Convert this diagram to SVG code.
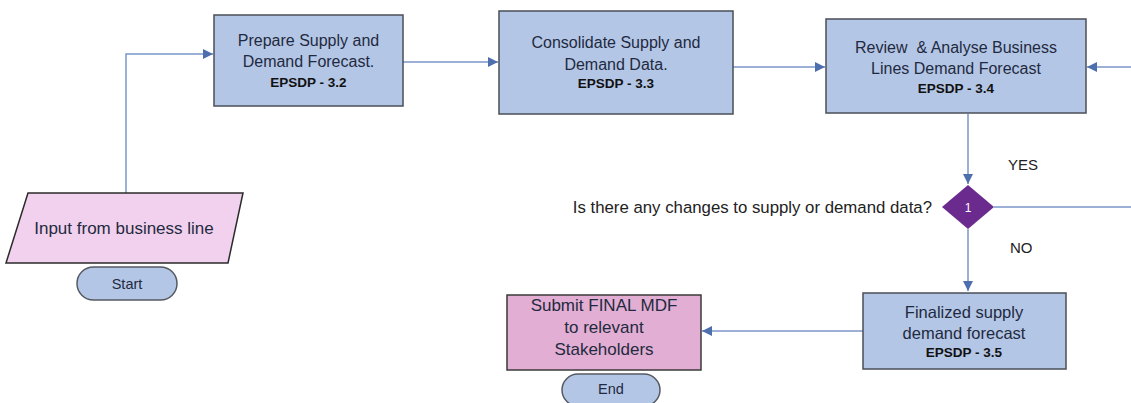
<svg xmlns="http://www.w3.org/2000/svg" width="1131" height="403" viewBox="0 0 1131 403">
<style>
.box{fill:#b4c6e6;stroke:#4a4f57;stroke-width:1.5}
.pink{fill:#f2d1ee;stroke:#2b2b2b;stroke-width:1.5}
.sub{fill:#e2aed3;stroke:#3a3a3a;stroke-width:1.5}
.pill{fill:#b4c6e6;stroke:#555a62;stroke-width:1.5}
.t{font-family:"Liberation Sans",Arial,sans-serif;font-size:16px;fill:#1f2a40;text-anchor:middle}
.b{font-family:"Liberation Sans",Arial,sans-serif;font-size:13.5px;font-weight:bold;fill:#111;text-anchor:middle}
.lbl{font-family:"Liberation Sans",Arial,sans-serif;font-size:15px;fill:#222}
.conn{fill:none;stroke:#7a96c6;stroke-width:1.5}
</style>
<defs>
<marker id="ah" viewBox="0 0 10 10" refX="10" refY="5" markerWidth="10" markerHeight="10" markerUnits="userSpaceOnUse" orient="auto">
<path d="M0,0 L10,5 L0,10 Z" fill="#4e6fae"/>
</marker>
</defs>
<rect width="1131" height="403" fill="#ffffff"/>
<g id="connectors">
<path class="conn" d="M126,193 V54 H213" marker-end="url(#ah)"/>
<path class="conn" d="M403,62 H498" marker-end="url(#ah)"/>
<path class="conn" d="M733,67 H825" marker-end="url(#ah)"/>
<path class="conn" d="M1131,67 H1087" marker-end="url(#ah)"/>
<path class="conn" d="M968,114 V184" marker-end="url(#ah)"/>
<path class="conn" d="M994,207 H1131"/>
<path class="conn" d="M968,229 V291" marker-end="url(#ah)"/>
<path class="conn" d="M863,331 H702" marker-end="url(#ah)"/>
</g>
<g id="input">
<polygon class="pink" points="28,193 243,193 228,263 6,263"/>
<text class="t" x="124" y="234" style="font-size:17px">Input from business line</text>
</g>
<g id="start">
<rect class="pill" x="77" y="267" width="100" height="33" rx="16.5"/>
<text class="t" x="127" y="289" style="font-size:14.5px">Start</text>
</g>
<g id="prepare">
<rect class="box" x="214" y="15" width="189" height="91"/>
<text class="t" x="308.5" y="46">Prepare Supply and</text>
<text class="t" x="308.5" y="67">Demand Forecast.</text>
<text class="b" x="308.5" y="87">EPSDP - 3.2</text>
</g>
<g id="consolidate">
<rect class="box" x="499" y="11" width="234" height="103"/>
<text class="t" x="616" y="48">Consolidate Supply and</text>
<text class="t" x="616" y="70">Demand Data.</text>
<text class="b" x="616" y="88">EPSDP - 3.3</text>
</g>
<g id="review">
<rect class="box" x="826" y="19" width="260" height="94"/>
<text class="t" x="956" y="53" style="white-space:pre">Review  &amp; Analyse Business</text>
<text class="t" x="956" y="74">Lines Demand Forecast</text>
<text class="b" x="956" y="93">EPSDP - 3.4</text>
</g>
<g id="decision">
<polygon points="968,185 994,207 968,229 942,207" fill="#6a2a8e"/>
<text x="968" y="212" text-anchor="middle" font-family="Liberation Sans, Arial, sans-serif" font-size="12" fill="#ffffff">1</text>
<text class="lbl" x="932" y="213" text-anchor="end" style="font-size:16.8px">Is there any changes to supply or demand data?</text>
<text class="lbl" x="1008" y="170">YES</text>
<text class="lbl" x="1010" y="253">NO</text>
</g>
<g id="finalized">
<rect class="box" x="863" y="293" width="203" height="76"/>
<text class="t" x="964" y="318" style="font-size:16.5px">Finalized supply</text>
<text class="t" x="964" y="339" style="font-size:16.5px">demand forecast</text>
<text class="b" x="964" y="357">EPSDP - 3.5</text>
</g>
<g id="submit">
<rect class="sub" x="507" y="295" width="194" height="75"/>
<text class="t" x="604" y="311" style="font-size:17px">Submit FINAL MDF</text>
<text class="t" x="604" y="333" style="font-size:17px">to relevant</text>
<text class="t" x="604" y="355" style="font-size:17px">Stakeholders</text>
</g>
<g id="end">
<rect class="pill" x="562" y="374" width="98" height="32" rx="16"/>
<text class="t" x="611" y="394" style="font-size:14.5px">End</text>
</g>
</svg>
